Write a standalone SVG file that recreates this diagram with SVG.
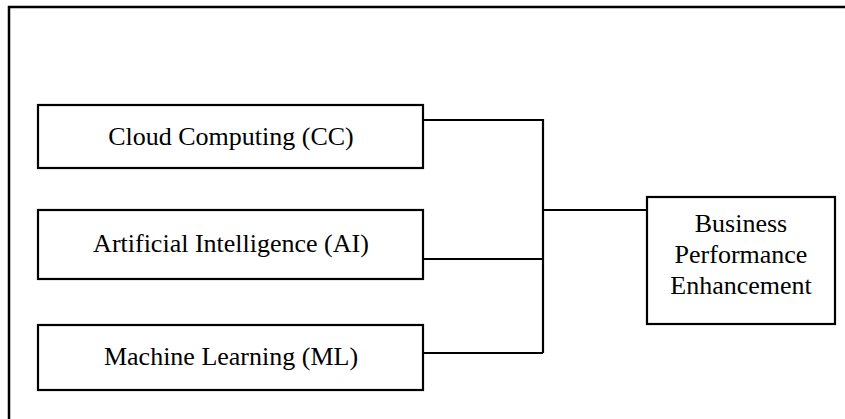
<svg xmlns="http://www.w3.org/2000/svg" width="845" height="419" viewBox="0 0 845 419">
<style>
.box{fill:#fff;stroke:#000;stroke-width:2.2}
.lbl{font-family:"Liberation Serif","Times New Roman",serif;font-size:26px;fill:#000;text-anchor:middle}
.con{fill:none;stroke:#000;stroke-width:2.2}
</style>
<rect width="845" height="419" fill="#fff"/>
<path d="M9,419 V7 H845" fill="none" stroke="#000" stroke-width="2.5"/>
<g id="connectors">
<path class="con" d="M423,120 H543 V353"/>
<path class="con" d="M423,259 H543"/>
<path class="con" d="M423,353 H543"/>
<path class="con" d="M543,210 H647"/>
</g>
<g id="cc">
<rect class="box" x="38" y="105" width="385" height="63"/>
<text class="lbl" x="231" y="145">Cloud Computing (CC)</text>
</g>
<g id="ai">
<rect class="box" x="38" y="210" width="385" height="69"/>
<text class="lbl" x="231" y="252">Artificial Intelligence (AI)</text>
</g>
<g id="ml">
<rect class="box" x="38" y="325" width="385" height="65"/>
<text class="lbl" x="231" y="365">Machine Learning (ML)</text>
</g>
<g id="bpe">
<rect class="box" x="647" y="197" width="188" height="127"/>
<text class="lbl" x="741" y="232">Business</text>
<text class="lbl" x="741" y="263">Performance</text>
<text class="lbl" x="741" y="294">Enhancement</text>
</g>
</svg>
